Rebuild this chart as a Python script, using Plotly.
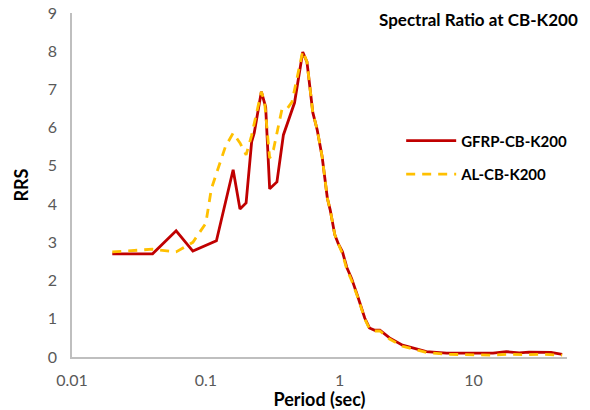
import plotly.graph_objects as go

# ---- data ----
period_gfrp = [0.02, 0.04, 0.06, 0.08, 0.12, 0.16, 0.18, 0.2, 0.22, 0.23, 0.26, 0.28, 0.3, 0.34,
               0.38, 0.42, 0.46, 0.53, 0.57, 0.63, 0.68, 0.74, 0.81, 0.85, 0.92, 0.98, 1.05,
               1.13, 1.23, 1.37, 1.54, 1.67, 1.83, 2.0, 2.36, 2.95, 3.5, 4.45, 6.3, 10, 14,
               17.6, 22, 26, 32, 38, 46]
rrs_gfrp = [2.70, 2.70, 3.30, 2.77, 3.04, 4.90, 3.87, 4.03, 5.63, 5.86, 6.94, 6.54, 4.40, 4.58,
            5.81, 6.26, 6.65, 7.98, 7.72, 6.40, 5.94, 5.24, 4.15, 3.85, 3.20, 2.95, 2.75,
            2.35, 2.05, 1.57, 1.02, 0.76, 0.70, 0.70, 0.50, 0.31, 0.24, 0.14, 0.10, 0.10, 0.10,
            0.14, 0.11, 0.13, 0.13, 0.12, 0.07]

period_al = [0.02, 0.04, 0.06, 0.08, 0.1, 0.11, 0.12, 0.14, 0.16, 0.18, 0.2, 0.22, 0.24, 0.26,
             0.275, 0.3, 0.32, 0.37, 0.4, 0.44, 0.53, 0.57, 0.63, 0.68, 0.74, 0.81, 0.85, 0.92,
             0.98, 1.05, 1.13, 1.23, 1.37, 1.54, 1.67, 1.83, 2.0, 2.36, 2.95, 3.5, 4.45, 6.3,
             10, 14, 17.6, 22, 26, 32, 38, 46]
rrs_al = [2.75, 2.82, 2.75, 3.00, 3.50, 4.40, 4.80, 5.50, 5.86, 5.60, 5.29, 5.80, 6.40, 6.94,
          6.67, 5.20, 5.42, 6.47, 6.47, 6.67, 8.00, 7.72, 6.40, 5.94, 5.24, 4.15, 3.85, 3.20,
          2.95, 2.70, 2.30, 2.00, 1.55, 1.00, 0.74, 0.68, 0.68, 0.47, 0.28, 0.22, 0.12, 0.07,
          0.06, 0.05, 0.07, 0.06, 0.06, 0.07, 0.06, 0.05]

x_tickvals = [0.01, 0.1, 1, 10]
x_ticktext = ["0.01", "0.1", "1", "10"]
y_tickvals = [0, 1, 2, 3, 4, 5, 6, 7, 8, 9]

FONT = "Lato, 'Open Sans', sans-serif"

fig = go.Figure()
fig.add_trace(go.Scatter(
    x=period_gfrp, y=rrs_gfrp, mode="lines", name="GFRP-CB-K200",
    legendgroup="g1",
    line=dict(color="#C00000", width=2.8)))
fig.add_trace(go.Scatter(
    x=period_al, y=rrs_al, mode="lines", name="AL-CB-K200",
    legendgroup="g2",
    line=dict(color="#FFC000", width=2.8, dash="9px,7px")))

fig.update_layout(
    width=590, height=410,
    margin=dict(l=72, r=23, t=13, b=53),
    paper_bgcolor="white", plot_bgcolor="white",
    font=dict(family=FONT, size=16, color="#595959"),
    showlegend=True,
    legend=dict(
        x=0.665, y=0.676, xanchor="left", yanchor="top",
        font=dict(family=FONT, size=15, color="#000000", weight="bold"),
        bgcolor="rgba(0,0,0,0)",
        traceorder="grouped", tracegroupgap=11,
        itemwidth=50,
    ),
    annotations=[
        dict(text="<b>Spectral Ratio at CB-K200</b>", xref="paper", yref="paper",
             x=1.027, y=0.98, xanchor="right", yanchor="middle", showarrow=False,
             font=dict(family=FONT, size=17, color="#000000")),
    ],
)

fig.update_xaxes(
    type="log", range=[-2, 1.699], automargin=False,
    tickvals=x_tickvals, ticktext=x_ticktext,
    showgrid=False, zeroline=False,
    showline=True, linecolor="#BFBFBF", linewidth=1.5,
    ticks="", ticklabelstandoff=8,
    title=dict(text="<b>Period (sec)</b>", font=dict(family=FONT, size=18, color="#000000"),
               standoff=2),
)
fig.update_yaxes(
    range=[0, 9], tickvals=y_tickvals, automargin=False,
    showgrid=False, zeroline=False,
    showline=True, linecolor="#BFBFBF", linewidth=1.5,
    ticks="", ticklabelstandoff=10,
    title=dict(text="<b>RRS</b>", font=dict(family=FONT, size=18, color="#000000"),
               standoff=14),
)

fig.write_html("out.html",
               config={"displayModeBar": False},
               post_script="document.body.style.margin='0';document.body.style.overflow='hidden';")
